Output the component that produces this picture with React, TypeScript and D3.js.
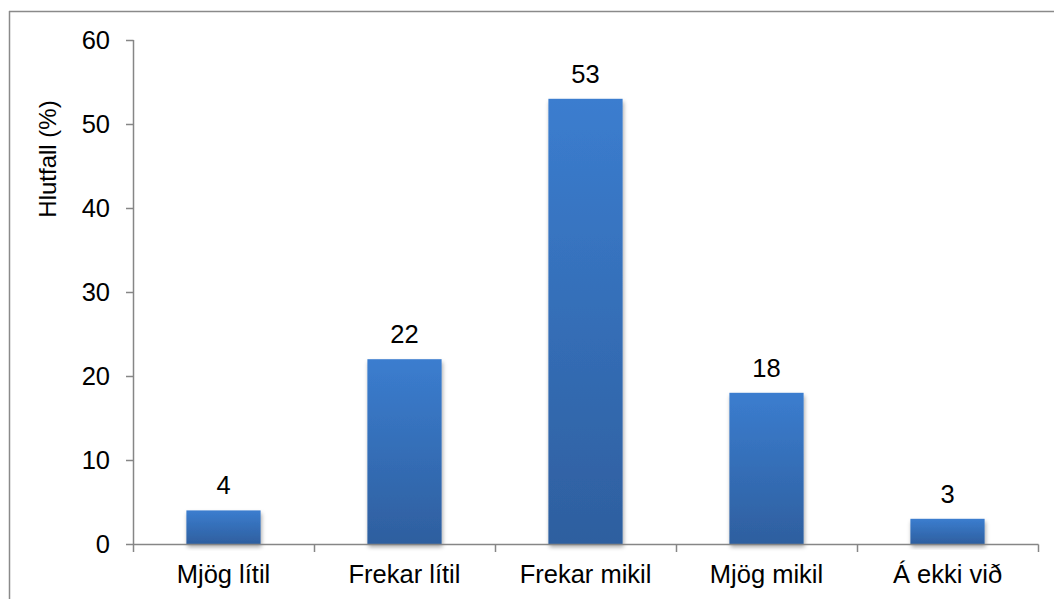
import React, { useEffect, useRef } from 'react';
import * as d3 from 'd3';

const categories = ['Mjög lítil', 'Frekar lítil', 'Frekar mikil', 'Mjög mikil', 'Á ekki við'];
const values = [4, 22, 53, 18, 3];
const yTicks = [0, 10, 20, 30, 40, 50, 60];
const yLabel = 'Hlutfall (%)';

export default function App() {
  const ref = useRef<SVGSVGElement>(null);

  useEffect(() => {
    const svg = d3.select(ref.current);
    svg.selectAll('*').remove();
    const font = 'Arial, "Liberation Sans", sans-serif';
    const fs = '25.5px';

    const x = d3.scaleBand().domain(categories).range([133, 1038]).paddingInner(0.59).paddingOuter(0.295);
    const y = d3.scaleLinear().domain([0, 60]).range([544, 40]);

    const defs = svg.append('defs');
    const grad = defs.append('linearGradient').attr('id', 'barGrad').attr('x1', 0).attr('y1', 0).attr('x2', 0).attr('y2', 1);
    grad.append('stop').attr('offset', '0%').attr('stop-color', '#3b7dcf');
    grad.append('stop').attr('offset', '100%').attr('stop-color', '#2e5f9f');
    const f = defs.append('filter').attr('id', 'shadow').attr('x', '-20%').attr('y', '-20%').attr('width', '140%').attr('height', '140%');
    f.append('feDropShadow').attr('dx', 1).attr('dy', 3).attr('stdDeviation', 2).attr('flood-color', '#000').attr('flood-opacity', 0.35);

    // chart border
    svg.append('line').attr('x1', 9.5).attr('x2', 9.5).attr('y1', 11).attr('y2', 599).attr('stroke', '#8a8a8a').attr('stroke-width', 1.5);
    svg.append('line').attr('x1', 9).attr('x2', 1054).attr('y1', 11.5).attr('y2', 11.5).attr('stroke', '#8a8a8a').attr('stroke-width', 1.5);

    // bars
    svg.append('g').selectAll('rect').data(values).join('rect')
      .attr('x', (d, i) => x(categories[i])!)
      .attr('width', x.bandwidth())
      .attr('y', d => y(d))
      .attr('height', d => y(0) - y(d))
      .attr('fill', 'url(#barGrad)')
      .attr('filter', 'url(#shadow)');

    // y axis
    const ya = svg.append('g');
    ya.append('line').attr('x1', 133.5).attr('x2', 133.5).attr('y1', y(60)).attr('y2', y(0)).attr('stroke', '#868686').attr('stroke-width', 1.5);
    yTicks.forEach(t => {
      ya.append('line').attr('x1', 126).attr('x2', 133.5).attr('y1', y(t) + 0.5).attr('y2', y(t) + 0.5).attr('stroke', '#868686').attr('stroke-width', 1.5);
      ya.append('text').attr('x', 110).attr('y', y(t) + 9).attr('text-anchor', 'end')
        .style('font-family', font).style('font-size', fs).attr('fill', '#000').text(t);
    });
    ya.append('text').attr('transform', 'translate(56,159) rotate(-90)').attr('text-anchor', 'middle')
      .style('font-family', font).style('font-size', '24px').attr('fill', '#000').text(yLabel);

    // x axis
    const xa = svg.append('g');
    xa.append('line').attr('x1', 133).attr('x2', 1038.5).attr('y1', 544.5).attr('y2', 544.5).attr('stroke', '#868686').attr('stroke-width', 1.5);
    const step = x.step();
    d3.range(categories.length + 1).forEach(i => {
      const px = 133.5 + i * step;
      xa.append('line').attr('x1', px).attr('x2', px).attr('y1', 544.5).attr('y2', 552).attr('stroke', '#868686').attr('stroke-width', 1.5);
    });
    categories.forEach(c => {
      xa.append('text').attr('x', x(c)! + x.bandwidth() / 2).attr('y', 583).attr('text-anchor', 'middle')
        .style('font-family', font).style('font-size', fs).attr('fill', '#000').text(c);
    });

    // value labels
    svg.append('g').selectAll('text').data(values).join('text')
      .attr('x', (d, i) => x(categories[i])! + x.bandwidth() / 2)
      .attr('y', d => y(d) - 16)
      .attr('text-anchor', 'middle')
      .style('font-family', font).style('font-size', fs).attr('fill', '#000')
      .text(d => d);
  }, []);

  return (
    <svg ref={ref} width={1054} height={599} style={{ position: 'absolute', left: 0, top: 0, background: '#fff' }} />
  );
}
